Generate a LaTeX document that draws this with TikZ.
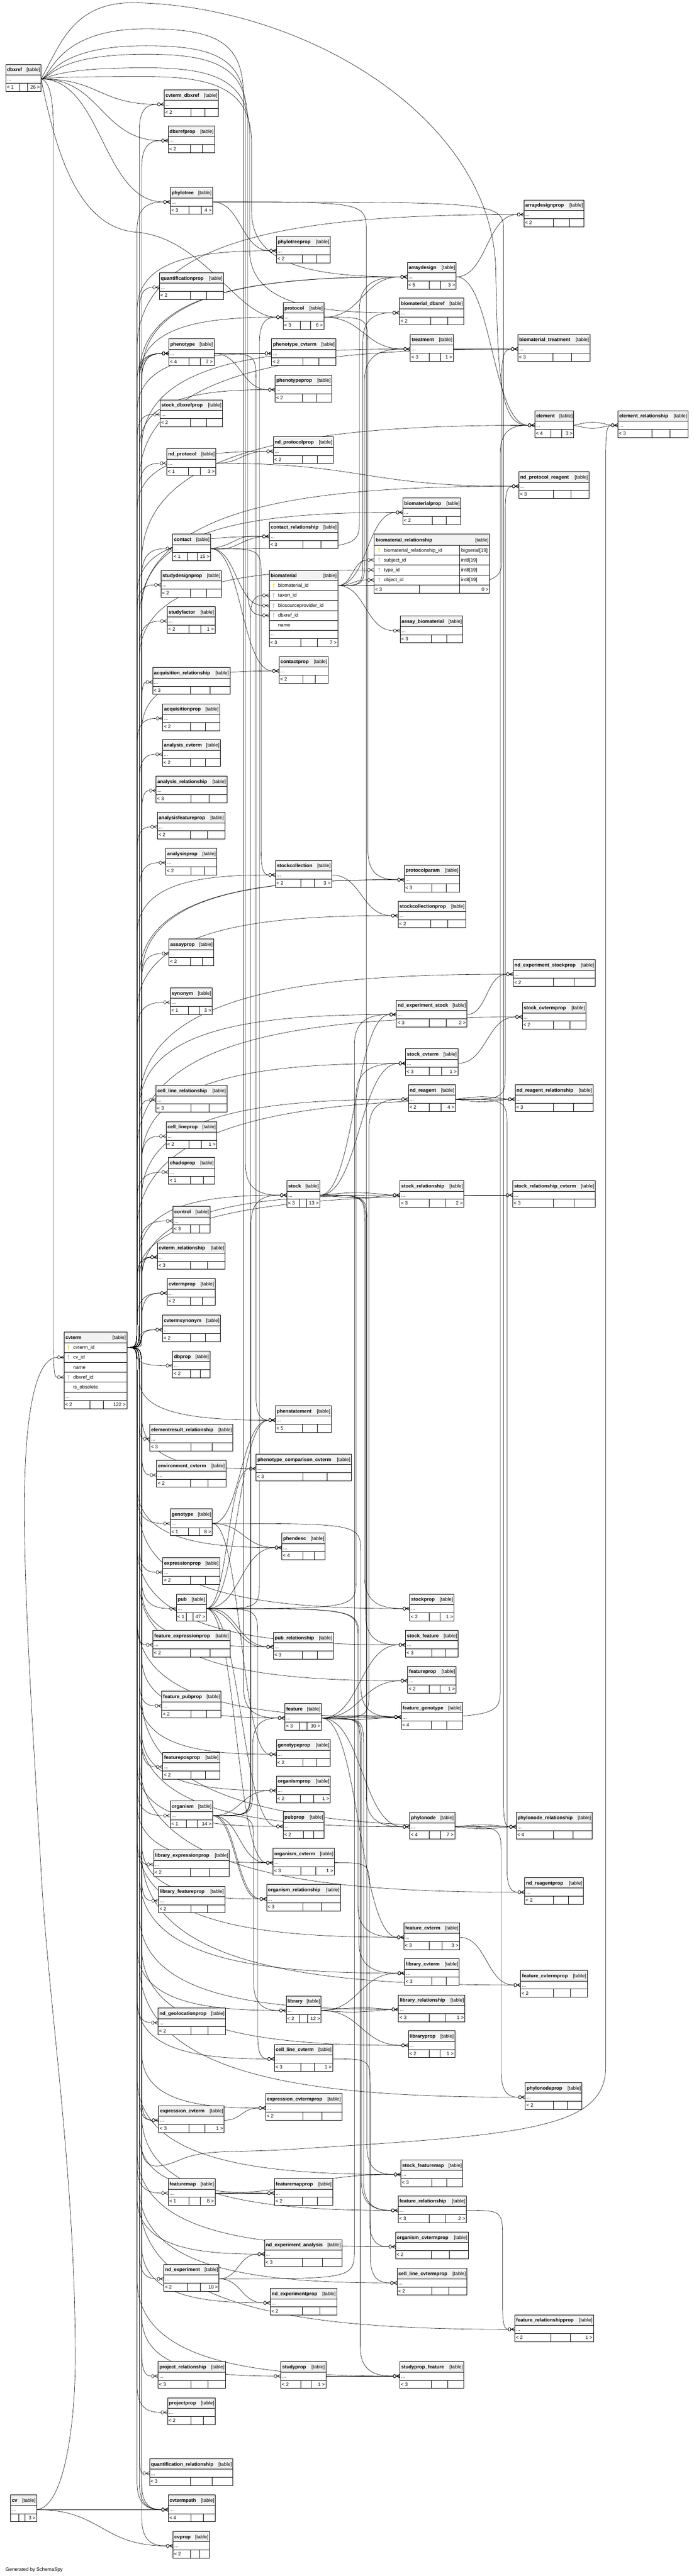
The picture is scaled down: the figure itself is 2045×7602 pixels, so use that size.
\documentclass[tikz,border=0pt]{standalone}
\usepackage{fontspec}
\setmainfont{Liberation Sans}
\usetikzlibrary{calc}
\pgfdeclarelayer{back}
\pgfdeclarelayer{edges}
\pgfsetlayers{back,edges,main}
\definecolor{hdr}{HTML}{F2F2F2}
\definecolor{pkc}{HTML}{E6DC00}
\definecolor{fkc}{HTML}{B4B4B4}
\newcommand\fs{\fontsize{14.4}{16}\selectfont}

% ---------- table (standard, 79 high) ----------
\newcommand{\tbl}[8]{%
 \fill[white] (#2,#3) rectangle (#4,#3+79);
 \fill[hdr] (#2,#3) rectangle (#4,#3+31);
 \draw[tb] (#2,#3) rectangle (#4,#3+79);
 \draw[tb] (#2,#3+31) -- (#4,#3+31) (#2,#3+55) -- (#4,#3+55) (#7,#3+55) -- (#7,#3+79) (#8,#3+55) -- (#8,#3+79);
 \node[anchor=base west] (#1-name) at (#2+4,#3+21) {\bfseries\detokenize{#1}};
 \node[anchor=base east] (#1-tag) at (#4-3,#3+21) {[table]};
 \node[anchor=base west] (#1-dots) at (#2+4,#3+48) {...};
 \node[anchor=base west] (#1-fl) at (#2+3,#3+72) {#5};
 \node[anchor=base east] (#1-fr) at (#4-3,#3+72) {#6};
 \coordinate (#1-in) at (#2,#3+43);
 \coordinate (#1-out) at (#4,#3+43);}

\newcommand{\keyicon}[3]{\fill[#3] (#1,#2-4) circle (2.8pt); \draw[#3,line width=1.6pt] (#1,#2-3) -- (#1,#2+7);}

% ---------- crow's foot with circle (zero or many) ----------
\newcommand{\crow}[1]{%
 \draw[edge] ([xshift=-15.5pt]#1) ellipse (4pt and 5pt);
 \draw[edge] ([xshift=-11.5pt]#1) -- ([yshift=5pt]#1) ([xshift=-11.5pt]#1) -- (#1) ([xshift=-11.5pt]#1) -- ([yshift=-5pt]#1);}

% ---------- direct connector ----------
\newcommand{\ded}[3][0]{%
 \path (#2-out); \pgfgetlastxy{\qxa}{\qya}%
 \path (#3-in); \pgfgetlastxy{\qxb}{\qyb}%
 \pgfmathsetmacro{\qk}{max(30,0.5*(\qxb-19.5-\qxa))}%
 \draw[edge] (#2-out) .. controls +(\qk pt,#1pt) and +(-\qk pt,#1pt) .. ([xshift=-19.5pt]#3-in);%
 \crow{#3-in}}

% ---------- connector through a vertical channel ----------
\newcommand{\che}[3]{%
 \path (#1-out); \pgfgetlastxy{\qxa}{\qya}%
 \path (#2-in); \pgfgetlastxy{\qxb}{\qyb}%
 \pgfmathsetmacro{\qxa}{\qxa}\pgfmathsetmacro{\qxb}{\qxb}%
 \pgfmathsetmacro{\qya}{-\qya}\pgfmathsetmacro{\qyb}{-\qyb}%
 \pgfmathsetmacro{\qs}{(\qyb>\qya)?1:-1}%
 \pgfmathsetmacro{\qd}{abs(\qyb-\qya)}%
 \pgfmathsetmacro{\qex}{\qxb-19.5}%
 \pgfmathsetmacro{\qra}{min(90,0.4*\qd)}%
 \pgfmathsetmacro{\qrb}{min(0.55*\qd,60+0.3*(\qex-#3))}%
 \pgfmathsetmacro{\qyc}{\qya+\qs*\qra}%
 \pgfmathsetmacro{\qyd}{\qyb-\qs*\qrb}%
 \pgfmathsetmacro{\qye}{\qyb-\qs*0.15*\qrb}%
 \pgfmathsetmacro{\qmx}{#3+0.45*(\qex-#3)}%
 \draw[edge] (#1-out) .. controls (#3,\qya) and (#3,\qya) .. (#3,\qyc) -- (#3,\qyd) .. controls (#3,\qye) and (\qmx,\qyb) .. (\qex,\qyb);%
 \crow{#2-in}}

% ---------- dbxref arcs over the top ----------
\newcommand{\dbe}[3]{%
 \path (#3-in); \pgfgetlastxy{\qxb}{\qyb}%
 \pgfmathsetmacro{\qxb}{\qxb}\pgfmathsetmacro{\qyb}{-\qyb}%
 \pgfmathsetmacro{\qex}{\qxb-19.5}%
 \pgfmathsetmacro{\qrb}{min(0.5*(\qyb-#1-200),60+0.3*(\qex-#2))}%
 \pgfmathsetmacro{\qyd}{\qyb-\qrb}%
 \pgfmathsetmacro{\qye}{\qyb-0.15*\qrb}%
 \pgfmathsetmacro{\qmx}{#2+0.45*(\qex-#2)}%
 \draw[edge] (dbxref-out) .. controls (150,230) and (165,#1) .. (430,#1) .. controls (640,#1) and (#2,#1+40) .. (#2,#1+200) -- (#2,\qyd) .. controls (#2,\qye) and (\qmx,\qyb) .. (\qex,\qyb);%
 \crow{#3-in}}

\begin{document}
\begin{tikzpicture}[x=1pt,y=-1pt,
  every node/.style={inner sep=0pt,font=\fs},
  edge/.style={draw=black,line width=0.9pt},
  tb/.style={draw=black,line width=1.2pt}]
\useasboundingbox (0,0) rectangle (2045,7602);
\begin{pgfonlayer}{back}
\fill[white] (0,0) rectangle (2045,7602);
\end{pgfonlayer}

% ================= TABLES =================
\tbl{dbxref}{17}{190}{121}{< 1}{26 >}{59}{81}
\tbl{cvterm_dbxref}{484}{265}{644}{< 2}{}{563}{604}
\tbl{dbxrefprop}{496}{372}{633}{< 2}{}{561}{597}
\tbl{phylotree}{502}{553}{627}{< 3}{4 >}{557}{593}
\tbl{arraydesignprop}{1545}{590}{1722}{< 2}{}{1632}{1679}
\tbl{phylotreeprop}{815}{697}{974}{< 2}{}{892}{934}
\tbl{quantificationprop}{470}{805}{659}{< 2}{}{561}{609}
\tbl{arraydesign}{1201}{774}{1345}{< 5}{3 >}{1265}{1299}
\tbl{biomaterial_dbxref}{1178}{880}{1368}{< 2}{}{1270}{1320}
\tbl{protocol}{835}{893}{955}{< 3}{6 >}{886}{916}
\tbl{treatment}{1210}{987}{1337}{< 3}{1 >}{1265}{1299}
\tbl{biomaterial_treatment}{1527}{987}{1740}{< 3}{}{1630}{1685}
\tbl{phenotype}{498}{1000}{631}{< 4}{7 >}{557}{591}
\tbl{phenotype_cvterm}{801}{1000}{990}{< 2}{}{893}{940}
\tbl{phenotypeprop}{811}{1107}{978}{< 2}{}{892}{934}
\tbl{stock_dbxrefprop}{472}{1180}{656}{< 2}{}{562}{609}
\tbl{element}{1577}{1212}{1692}{< 4}{3 >}{1625}{1656}
\tbl{element_relationship}{1822}{1212}{2029}{< 3}{}{1922}{1976}
\tbl{nd_protocolprop}{806}{1289}{983}{< 2}{}{892}{936}
\tbl{nd_protocol}{492}{1324}{636}{< 1}{3 >}{556}{591}
\tbl{nd_protocol_reagent}{1530}{1392}{1737}{< 3}{}{1632}{1684}
\tbl{biomaterialprop}{1188}{1469}{1359}{< 2}{}{1274}{1316}
\tbl{contact_relationship}{794}{1540}{996}{< 3}{}{893}{946}
\tbl{contact}{509}{1576}{621}{< 1}{15 >}{552}{582}
\tbl{studydesignprop}{475}{1683}{653}{< 2}{}{562}{608}
\tbl{studyfactor}{493}{1790}{634}{< 2}{1 >}{557}{592}
\tbl{assay_biomaterial}{1180}{1818}{1365}{< 3}{}{1272}{1318}
\tbl{contactprop}{823}{1937}{968}{< 2}{}{893}{930}
\tbl{acquisition_relationship}{450}{1970}{678}{< 3}{}{561}{619}
\tbl{acquisitionprop}{480}{2077}{648}{< 2}{}{562}{605}
\tbl{analysis_cvterm}{479}{2183}{650}{< 2}{}{561}{605}
\tbl{analysis_relationship}{460}{2290}{669}{< 3}{}{563}{616}
\tbl{analysisfeatureprop}{464}{2397}{663}{< 2}{}{561}{612}
\tbl{analysisprop}{489}{2503}{639}{< 2}{}{563}{603}
\tbl{stockcollection}{812}{2539}{978}{< 2}{3 >}{887}{927}
\tbl{protocolparam}{1192}{2553}{1355}{< 3}{}{1273}{1315}
\tbl{stockcollectionprop}{1174}{2659}{1373}{< 2}{}{1270}{1321}
\tbl{assayprop}{498}{2771}{630}{< 2}{}{561}{596}
\tbl{nd_experiment_stockprop}{1513}{2832}{1755}{< 2}{}{1632}{1693}
\tbl{synonym}{502}{2915}{626}{< 1}{3 >}{556}{587}
\tbl{nd_experiment_stock}{1169}{2951}{1377}{< 3}{2 >}{1265}{1316}
\tbl{stock_cvtermprop}{1540}{2958}{1728}{< 2}{}{1632}{1680}
\tbl{stock_cvterm}{1196}{3095}{1350}{< 3}{1 >}{1265}{1302}
\tbl{cell_line_relationship}{460}{3203}{669}{< 3}{}{563}{616}
\tbl{nd_reagent}{1204}{3201}{1343}{< 2}{4 >}{1265}{1300}
\tbl{nd_reagent_relationship}{1519}{3201}{1749}{< 3}{}{1632}{1692}
\tbl{cell_lineprop}{490}{3310}{639}{< 2}{1 >}{557}{593}
\tbl{chadoprop}{497}{3416}{633}{< 1}{}{562}{599}
\tbl{stock}{846}{3484}{943}{< 3}{13 >}{883}{904}
\tbl{stock_relationship}{1179}{3484}{1368}{< 3}{2 >}{1265}{1312}
\tbl{stock_relationship_cvterm}{1512}{3484}{1755}{< 3}{}{1632}{1693}
\tbl{control}{510}{3560}{619}{< 3}{}{562}{589}
\tbl{cvterm_relationship}{464}{3667}{664}{< 3}{}{561}{612}
\tbl{cvtermprop}{493}{3773}{634}{< 2}{}{561}{597}
\tbl{cvtermsynonym}{479}{3881}{650}{< 2}{}{561}{605}
\tbl{dbprop}{509}{3987}{619}{< 2}{}{562}{591}
\tbl{phenstatement}{812}{4148}{977}{< 5}{}{892}{935}
\tbl{elementresult_relationship}{442}{4203}{687}{< 3}{}{563}{625}
\tbl{phenotype_comparison_cvterm}{755}{4291}{1036}{< 3}{}{893}{964}
\tbl{environment_cvterm}{462}{4310}{666}{< 2}{}{561}{613}
\tbl{genotype}{502}{4453}{626}{< 1}{8 >}{556}{587}
\tbl{phendesc}{831}{4524}{959}{< 4}{}{893}{927}
\tbl{expressionprop}{480}{4597}{648}{< 2}{}{562}{605}
\tbl{pub}{520}{4704}{608}{< 1}{47 >}{550}{569}
\tbl{stockprop}{1208}{4704}{1339}{< 2}{1 >}{1265}{1298}
\tbl{feature_expressionprop}{451}{4811}{678}{< 2}{}{562}{619}
\tbl{pub_relationship}{806}{4817}{983}{< 3}{}{892}{936}
\tbl{stock_feature}{1196}{4811}{1351}{< 3}{}{1273}{1312}
\tbl{featureprop}{1202}{4917}{1345}{< 2}{1 >}{1265}{1298}
\tbl{feature_pubprop}{477}{4991}{652}{< 2}{}{563}{608}
\tbl{feature}{840}{5027}{948}{< 3}{30 >}{883}{905}
\tbl{feature_genotype}{1183}{5024}{1364}{< 4}{}{1272}{1318}
\tbl{genotypeprop}{815}{5134}{974}{< 2}{}{893}{934}
\tbl{featureposprop}{480}{5171}{648}{< 2}{}{563}{605}
\tbl{organismprop}{815}{5241}{974}{< 2}{1 >}{886}{925}
\tbl{organism}{502}{5315}{627}{< 1}{14 >}{550}{582}
\tbl{pubprop}{835}{5347}{956}{< 2}{}{895}{925}
\tbl{phylonode}{1208}{5348}{1341}{< 4}{7 >}{1265}{1299}
\tbl{phylonode_relationship}{1522}{5348}{1746}{< 4}{}{1632}{1690}
\tbl{library_expressionprop}{453}{5459}{676}{< 2}{}{562}{618}
\tbl{organism_cvterm}{805}{5454}{986}{< 3}{1 >}{887}{931}
\tbl{nd_reagentprop}{1547}{5541}{1720}{< 2}{}{1632}{1676}
\tbl{library_featureprop}{467}{5566}{663}{< 2}{}{563}{612}
\tbl{organism_relationship}{786}{5561}{1004}{< 3}{}{893}{948}
\tbl{feature_cvterm}{1191}{5674}{1355}{< 3}{3 >}{1265}{1303}
\tbl{library_cvterm}{1193}{5780}{1354}{< 3}{}{1273}{1315}
\tbl{feature_cvtermprop}{1535}{5815}{1732}{< 2}{}{1632}{1682}
\tbl{library}{844}{5890}{947}{< 2}{12 >}{883}{906}
\tbl{library_relationship}{1175}{5887}{1371}{< 3}{1 >}{1265}{1312}
\tbl{nd_geolocationprop}{466}{5926}{665}{< 2}{}{563}{613}
\tbl{libraryprop}{1204}{5993}{1341}{< 2}{1 >}{1265}{1298}
\tbl{cell_line_cvterm}{809}{6033}{981}{< 3}{1 >}{887}{927}
\tbl{phylonodeprop}{1549}{6146}{1716}{< 2}{}{1632}{1673}
\tbl{expression_cvtermprop}{783}{6178}{1008}{< 2}{}{893}{949}
\tbl{expression_cvterm}{468}{6214}{661}{< 3}{1 >}{557}{604}
\tbl{stock_featuremap}{1182}{6374}{1365}{< 3}{}{1273}{1318}
\tbl{featuremap}{496}{6429}{634}{< 1}{8 >}{557}{590}
\tbl{featuremapprop}{809}{6429}{981}{< 2}{}{892}{935}
\tbl{feature_relationship}{1174}{6480}{1375}{< 3}{2 >}{1265}{1313}
\tbl{organism_cvtermprop}{1166}{6587}{1381}{< 2}{}{1272}{1325}
\tbl{nd_experiment_analysis}{780}{6609}{1008}{< 3}{}{892}{951}
\tbl{cell_line_cvtermprop}{1171}{6694}{1377}{< 2}{}{1273}{1324}
\tbl{nd_experiment}{483}{6682}{646}{< 2}{10 >}{552}{590}
\tbl{nd_experimentprop}{797}{6753}{993}{< 2}{}{892}{943}
\tbl{feature_relationshipprop}{1518}{6831}{1750}{< 2}{1 >}{1625}{1682}
\tbl{project_relationship}{466}{6969}{665}{< 3}{}{563}{613}
\tbl{studyprop}{828}{6969}{961}{< 2}{1 >}{887}{918}
\tbl{studyprop_feature}{1179}{6969}{1368}{< 3}{}{1272}{1320}
\tbl{projectprop}{494}{7076}{635}{< 2}{}{563}{600}
\tbl{quantification_relationship}{441}{7256}{687}{< 3}{}{561}{625}
\tbl{cv}{31}{7363}{108}{}{3 >}{55}{74}
\tbl{cvtermpath}{496}{7363}{635}{< 4}{}{563}{600}
\tbl{cvprop}{510}{7470}{618}{< 2}{}{562}{589}

% ---- cvterm (expanded) ----
\fill[white] (189,3931) rectangle (374,4157);
\fill[hdr] (189,3931) rectangle (374,3962);
\draw[tb] (189,3931) rectangle (374,4157);
\foreach \yy in {3962,3991,4020,4050,4079,4108,4133} {\draw[tb] (189,\yy) -- (374,\yy);}
\draw[tb] (265,4133) -- (265,4157) (305,4133) -- (305,4157);
\node[anchor=base west] (cvterm-name) at (193,3952) {\bfseries cvterm};
\node[anchor=base east] (cvterm-tag) at (371,3952) {[table]};
\node[anchor=base west] (cvterm-r1) at (216,3981.5) {cvterm\_id};
\node[anchor=base west] (cvterm-r2) at (216,4010.5) {cv\_id};
\node[anchor=base west] (cvterm-r3) at (216,4040) {name};
\node[anchor=base west] (cvterm-r4) at (216,4069.5) {dbxref\_id};
\node[anchor=base west] (cvterm-r5) at (216,4098.5) {is\_obsolete};
\node[anchor=base west] (cvterm-r6) at (193,4125) {...};
\node[anchor=base west] (cvterm-fl) at (192,4150) {< 2};
\node[anchor=base east] (cvterm-fr) at (371,4150) {122 >};
\keyicon{202}{3976.5}{pkc}
\keyicon{202}{4005.5}{fkc}
\keyicon{202}{4064.5}{fkc}
\coordinate (cvterm-out) at (374,3976.5);
\coordinate (cvterm-cvid-in) at (189,4005.5);
\coordinate (cvterm-dbx-in) at (189,4064.5);

% ---- biomaterial (expanded) ----
\fill[white] (794,1683) rectangle (996,1908);
\fill[hdr] (794,1683) rectangle (996,1713);
\draw[tb] (794,1683) rectangle (996,1908);
\foreach \yy in {1713,1743,1772,1802,1831,1860,1884} {\draw[tb] (794,\yy) -- (996,\yy);}
\draw[tb] (887,1884) -- (887,1908) (935,1884) -- (935,1908);
\node[anchor=base west] (biomaterial-name) at (798,1703) {\bfseries biomaterial};
\node[anchor=base east] (biomaterial-tag) at (993,1703) {[table]};
\node[anchor=base west] (biomaterial-r1) at (820,1733) {biomaterial\_id};
\node[anchor=base west] (biomaterial-r2) at (820,1762) {taxon\_id};
\node[anchor=base west] (biomaterial-r3) at (820,1792) {biosourceprovider\_id};
\node[anchor=base west] (biomaterial-r4) at (820,1821) {dbxref\_id};
\node[anchor=base west] (biomaterial-r5) at (820,1850) {name};
\node[anchor=base west] (biomaterial-r6) at (798,1876) {...};
\node[anchor=base west] (biomaterial-fl) at (797,1901) {< 3};
\node[anchor=base east] (biomaterial-fr) at (993,1901) {7 >};
\keyicon{807}{1728}{pkc}
\keyicon{807}{1757}{fkc}
\keyicon{807}{1787}{fkc}
\keyicon{807}{1816}{fkc}
\coordinate (biomaterial-out) at (996,1728);
\coordinate (biomaterial-taxon-in) at (794,1757);
\coordinate (biomaterial-bsp-in) at (794,1787);
\coordinate (biomaterial-dbx-in) at (794,1816);

% ---- biomaterial_relationship (expanded) ----
\fill[white] (1103,1576) rectangle (1444,1751);
\fill[hdr] (1103,1576) rectangle (1444,1609);
\draw[tb] (1103,1576) rectangle (1444,1751);
\foreach \yy in {1609,1638,1667,1697,1726} {\draw[tb] (1103,\yy) -- (1444,\yy);}
\draw[tb] (1356,1609) -- (1356,1751) (1236,1726) -- (1236,1751);
\node[anchor=base west] (brel-name) at (1108,1598) {\bfseries biomaterial\_relationship};
\node[anchor=base east] (brel-tag) at (1441,1598) {[table]};
\node[anchor=base west] (brel-r1) at (1132,1628.5) {biomaterial\_relationship\_id};
\node[anchor=base west] (brel-r2) at (1132,1657.5) {subject\_id};
\node[anchor=base west] (brel-r3) at (1132,1687) {type\_id};
\node[anchor=base west] (brel-r4) at (1132,1716.5) {object\_id};
\node[anchor=base west] (brel-t1) at (1360,1628.5) {bigserial[19]};
\node[anchor=base west] (brel-t2) at (1360,1657.5) {int8[19]};
\node[anchor=base west] (brel-t3) at (1360,1687) {int8[19]};
\node[anchor=base west] (brel-t4) at (1360,1716.5) {int8[19]};
\node[anchor=base west] (brel-fl) at (1106,1744) {< 3};
\node[anchor=base east] (brel-fr) at (1441,1744) {0 >};
\keyicon{1118}{1623.5}{pkc}
\keyicon{1118}{1652.5}{fkc}
\keyicon{1118}{1682}{fkc}
\keyicon{1118}{1711.5}{fkc}
\coordinate (biomaterial_relationship-subj-in) at (1103,1652.5);
\coordinate (biomaterial_relationship-type-in) at (1103,1682);
\coordinate (biomaterial_relationship-obj-in) at (1103,1711.5);

\node[anchor=base west] (footer) at (16,7588) {Generated by SchemaSpy};

% ================= CONNECTORS =================
\begin{pgfonlayer}{edges}
% dbxref
\ded{dbxref}{cvterm_dbxref}
\ded{dbxref}{dbxrefprop}
\ded{dbxref}{phylotree}
\dbe{85}{718}{feature}
\dbe{135}{724}{stock}
\dbe{160}{730}{biomaterial-dbx}
\dbe{200}{736}{biomaterial_dbxref}
\dbe{226}{742}{arraydesign}
\draw[edge] (dbxref-out) .. controls (150,240) and (158,300) .. (158,420) -- (158,3960) .. controls (158,4050) and (160,4064.5) .. (169.5,4064.5);
\crow{cvterm-dbx-in}
\draw[edge] (dbxref-out) .. controls (175,140) and (210,8) .. (391,8) .. controls (900,15) and (1455,350) .. (1462,800) .. controls (1468,1150) and (1480,1255) .. (1557.5,1255);
\crow{element-in}
\draw[edge] (dbxref-out) .. controls (160,420) and (220,670) .. (400,685) .. controls (600,700) and (700,936) .. (815.5,936);
\crow{protocol-in}

% cv
\draw[edge] (cv-out) .. controls (190,7400) and (222,7150) .. (222,6960) .. controls (222,6400) and (140,5900) .. (120,5500) .. controls (90,5000) and (72,4700) .. (72,4450) .. controls (72,4150) and (110,4005.5) .. (169.5,4005.5);
\crow{cvterm-cvid-in}
\ded{cv}{cvtermpath}
\ded{cv}{cvprop}

% cvterm bundle
\foreach \tname [count=\cn] in {cvterm_dbxref,dbxrefprop,phylotree,quantificationprop,phenotype,phenotype,phenotype,phenotype,
 stock_dbxrefprop,nd_protocol,contact,studydesignprop,studyfactor,acquisition_relationship,acquisitionprop,
 analysis_cvterm,analysis_relationship,analysisfeatureprop,analysisprop,assayprop,synonym,cell_line_relationship,
 cell_lineprop,chadoprop,control,cvterm_relationship,cvterm_relationship,cvterm_relationship,cvtermprop,cvtermprop,
 cvtermsynonym,cvtermsynonym,dbprop,elementresult_relationship,environment_cvterm,genotype,expressionprop,pub,
 feature_expressionprop,feature_pubprop,featureposprop,organism,library_expressionprop,library_featureprop,
 nd_geolocationprop,expression_cvterm,expression_cvterm,featuremap,nd_experiment,project_relationship,projectprop,
 quantification_relationship,cvtermpath,cvtermpath,cvtermpath,cvprop,
 phylotreeprop,arraydesign,arraydesign,arraydesignprop,protocol,treatment,phenotype_cvterm,phenotypeprop,element,
 nd_protocolprop,nd_protocol_reagent,biomaterialprop,contact_relationship,biomaterial_relationship-type,contactprop,
 stockcollection,protocolparam,protocolparam,stockcollectionprop,nd_experiment_stock,stock_cvterm,stock_cvtermprop,
 nd_experiment_stockprop,nd_reagent,nd_reagent_relationship,stock,stock_relationship,stock_relationship_cvterm,
 phenstatement,phenotype_comparison_cvterm,phendesc,stockprop,pub_relationship,stock_feature,featureprop,feature,
 feature_genotype,genotypeprop,organismprop,pubprop,phylonode,phylonode_relationship,organism_cvterm,nd_reagentprop,
 organism_relationship,feature_cvterm,library_cvterm,feature_cvtermprop,library,library_relationship,libraryprop,
 cell_line_cvterm,phylonodeprop,expression_cvtermprop,stock_featuremap,featuremapprop,feature_relationship,
 organism_cvtermprop,cell_line_cvtermprop,nd_experimentprop,nd_experiment_analysis,feature_relationshipprop,
 studyprop,studyprop_feature,biomaterial_treatment}
 {\pgfmathtruncatemacro\bxo{404+mod(\cn*7,21)}\che{cvterm}{\tname}{\bxo}}
\draw[edge] (cvterm-out) .. controls (418,3976.5) and (418,3976.5) .. (418,4066) -- (418,6330) .. controls (418,6410) and (470,6400) .. (540,6370) .. controls (620,6340) and (700,6355) .. (900,6340) .. controls (1550,6300) and (1786,6280) .. (1786,6100) -- (1786,1350) .. controls (1786,1270) and (1790,1255) .. (1802.5,1255);
\crow{element_relationship-in}

% phylotree / arraydesign / protocol / treatment
\ded{phylotree}{phylotreeprop}
\che{phylotree}{phylonode}{1080}
\che{phylotree}{phylonode_relationship}{1485}
\ded{arraydesign}{arraydesignprop}
\ded{arraydesign}{element}
\ded{protocol}{treatment}
\ded{protocol}{arraydesign}
\che{protocol}{protocolparam}{1085}
\ded{treatment}{biomaterial_treatment}
% phenotype
\ded{phenotype}{phenotype_cvterm}
\ded{phenotype}{phenotypeprop}
\che{phenotype}{phenstatement}{755}
% element
\ded[-12]{element}{element_relationship}
\ded[12]{element}{element_relationship}
% nd_protocol / nd_reagent
\ded{nd_protocol}{nd_protocolprop}
\ded{nd_protocol}{nd_protocol_reagent}
\ded[-10]{nd_reagent}{nd_reagent_relationship}
\ded[10]{nd_reagent}{nd_reagent_relationship}
\che{nd_reagent}{nd_protocol_reagent}{1490}
\che{nd_reagent}{nd_reagentprop}{1495}
% contact
\ded[-10]{contact}{contact_relationship}
\ded[10]{contact}{contact_relationship}
\ded{contact}{contactprop}
\ded{contact}{biomaterial-bsp}
\che{contact}{arraydesign}{1060}
\che{contact}{stockcollection}{770}
% biomaterial
\ded{biomaterial}{biomaterial_relationship-subj}
\ded{biomaterial}{biomaterial_relationship-obj}
\ded{biomaterial}{biomaterialprop}
\che{biomaterial}{biomaterial_dbxref}{1070}
\ded{biomaterial}{assay_biomaterial}
\che{biomaterial}{biomaterial_treatment}{1480}
\che{biomaterial}{treatment}{1075}
% organism
\ded{organism}{organismprop}
\ded{organism}{organism_cvterm}
\ded[-8]{organism}{organism_relationship}
\ded[8]{organism}{organism_relationship}
\che{organism}{feature}{745}
\che{organism}{stock}{740}
\che{organism}{library}{748}
\che{organism}{biomaterial-taxon}{738}
% small ones
\ded{stockcollection}{stockcollectionprop}
\ded{nd_experiment_stock}{nd_experiment_stockprop}
\ded{stock_cvterm}{stock_cvtermprop}
\ded{stock_relationship}{stock_relationship_cvterm}
% stock
\ded{stock}{nd_experiment_stock}
\ded{stock}{stock_cvterm}
\ded[-10]{stock}{stock_relationship}
\ded[10]{stock}{stock_relationship}
\che{stock}{stockprop}{1075}
\che{stock}{stock_feature}{1078}
\che{stock}{stock_featuremap}{1082}
% genotype
\ded{genotype}{phendesc}
\ded{genotype}{phenstatement}
\ded{genotype}{genotypeprop}
\che{genotype}{feature_genotype}{1064}
% pub
\ded{pub}{phendesc}
\ded{pub}{phenstatement}
\ded{pub}{phenotype_comparison_cvterm}
\ded[-8]{pub}{pub_relationship}
\ded[8]{pub}{pub_relationship}
\ded{pub}{pubprop}
\ded{pub}{organism_cvterm}
\che{pub}{stock_cvterm}{1050}
\che{pub}{feature_cvterm}{1055}
\che{pub}{library_cvterm}{1058}
\che{pub}{cell_line_cvterm}{760}
\che{pub}{protocol}{765}
% feature
\ded{feature}{stock_feature}
\ded{feature}{featureprop}
\ded[-8]{feature}{feature_genotype}
\ded[8]{feature}{feature_genotype}
\ded{feature}{feature_cvterm}
\ded{feature}{phylonode}
\che{feature}{feature_relationship}{1066}
\che{feature}{feature_relationship}{1072}
\che{feature}{studyprop_feature}{1062}
\che{feature}{element}{1475}
\che{feature}{nd_reagent}{1088}
% phylonode
\ded[-8]{phylonode}{phylonode_relationship}
\ded[8]{phylonode}{phylonode_relationship}
\che{phylonode}{phylonodeprop}{1478}
% misc
\che{organism_cvterm}{organism_cvtermprop}{1090}
\ded{feature_cvterm}{feature_cvtermprop}
\ded[-8]{library}{library_relationship}
\ded[8]{library}{library_relationship}
\ded{library}{libraryprop}
\ded{library}{library_cvterm}
\che{cell_line_cvterm}{cell_line_cvtermprop}{1092}
\ded{expression_cvterm}{expression_cvtermprop}
\ded{featuremap}{featuremapprop}
\ded{featuremap}{stock_featuremap}
\che{feature_relationship}{feature_relationshipprop}{1482}
\ded{nd_experiment}{nd_experiment_analysis}
\ded{nd_experiment}{nd_experimentprop}
\che{nd_experiment}{nd_experiment_stock}{1045}
\ded{studyprop}{studyprop_feature}
\end{pgfonlayer}
\end{tikzpicture}
\end{document}
